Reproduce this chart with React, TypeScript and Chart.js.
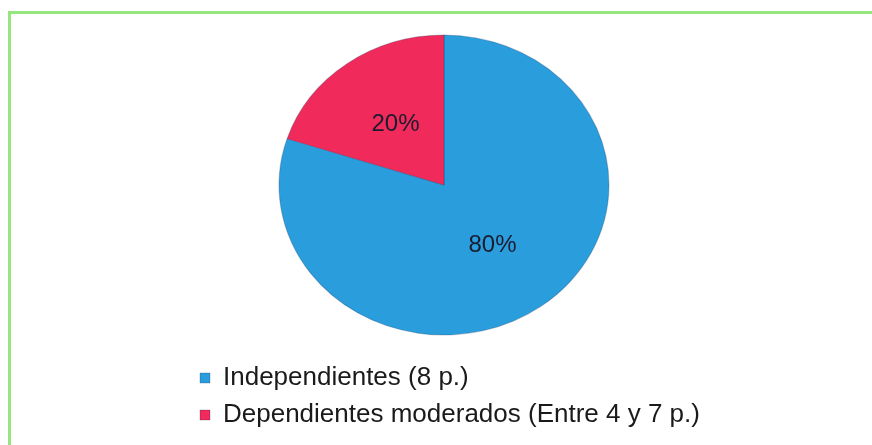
import React, { useEffect, useRef } from "react";
import { Chart, registerables } from "chart.js";

Chart.register(...registerables);

const categories = ["Independientes (8 p.)", "Dependientes moderados (Entre 4 y 7 p.)"];
const values = [80, 20];
const valueLabels = ["80%", "20%"];
const colors = ["#2a9ddd", "#f02a5a"];

const X_STRETCH = 1.1;

const ellipsePlugin = {
  id: "ellipsePie",
  beforeDatasetsDraw(chart: any) {
    const meta = chart.getDatasetMeta(0);
    const arc = meta.data[0];
    if (!arc) return;
    const { x, y } = arc;
    const ctx = chart.ctx;
    ctx.save();
    ctx.translate(x, y);
    ctx.scale(X_STRETCH, 1);
    ctx.translate(-x, -y);
  },
  afterDatasetsDraw(chart: any) {
    const ctx = chart.ctx;
    ctx.restore();
    const meta = chart.getDatasetMeta(0);
    ctx.save();
    ctx.font = "24px 'Liberation Sans', Arial, sans-serif";
    ctx.fillStyle = "#1c1c30";
    ctx.textAlign = "center";
    ctx.textBaseline = "middle";
    meta.data.forEach((arc: any, i: number) => {
      const c = arc.getCenterPoint();
      const px = arc.x + (c.x - arc.x) * X_STRETCH;
      ctx.fillText(valueLabels[i], px, c.y);
    });
    ctx.restore();
  },
};

export default function App() {
  const ref = useRef<HTMLCanvasElement | null>(null);

  useEffect(() => {
    if (!ref.current) return;
    const chart = new Chart(ref.current, {
      type: "pie",
      data: {
        labels: categories,
        datasets: [
          {
            data: values,
            backgroundColor: colors,
            borderColor: "rgba(20,40,80,0.25)",
            borderWidth: 1,
            radius: 150,
          } as any,
        ],
      },
      options: {
        responsive: false,
        animation: false,
        layout: { padding: { left: 189, right: 173, top: 16, bottom: 7 } },
        plugins: {
          tooltip: { enabled: false },
          legend: {
            position: "bottom",
            align: "start",
            labels: {
              boxWidth: 10,
              boxHeight: 10,
              padding: 11,
              color: "#1a1a1a",
              font: { size: 26, family: "'Liberation Sans', Arial, sans-serif" },
            },
          },
        },
      },
      plugins: [ellipsePlugin],
    });
    return () => chart.destroy();
  }, []);

  return (
    <div
      style={{
        position: "fixed",
        left: 0,
        top: 0,
        width: 872,
        height: 445,
        overflow: "hidden",
        background: "#ffffff",
      }}
    >
      <div
        style={{
          position: "absolute",
          left: 8,
          top: 11,
          width: 900,
          height: 500,
          border: "3px solid #96e67e",
          boxSizing: "border-box",
        }}
      />
      <canvas
        ref={ref}
        width={872}
        height={445}
        style={{ position: "absolute", left: 0, top: 0, width: 872, height: 445 }}
      />
    </div>
  );
}
